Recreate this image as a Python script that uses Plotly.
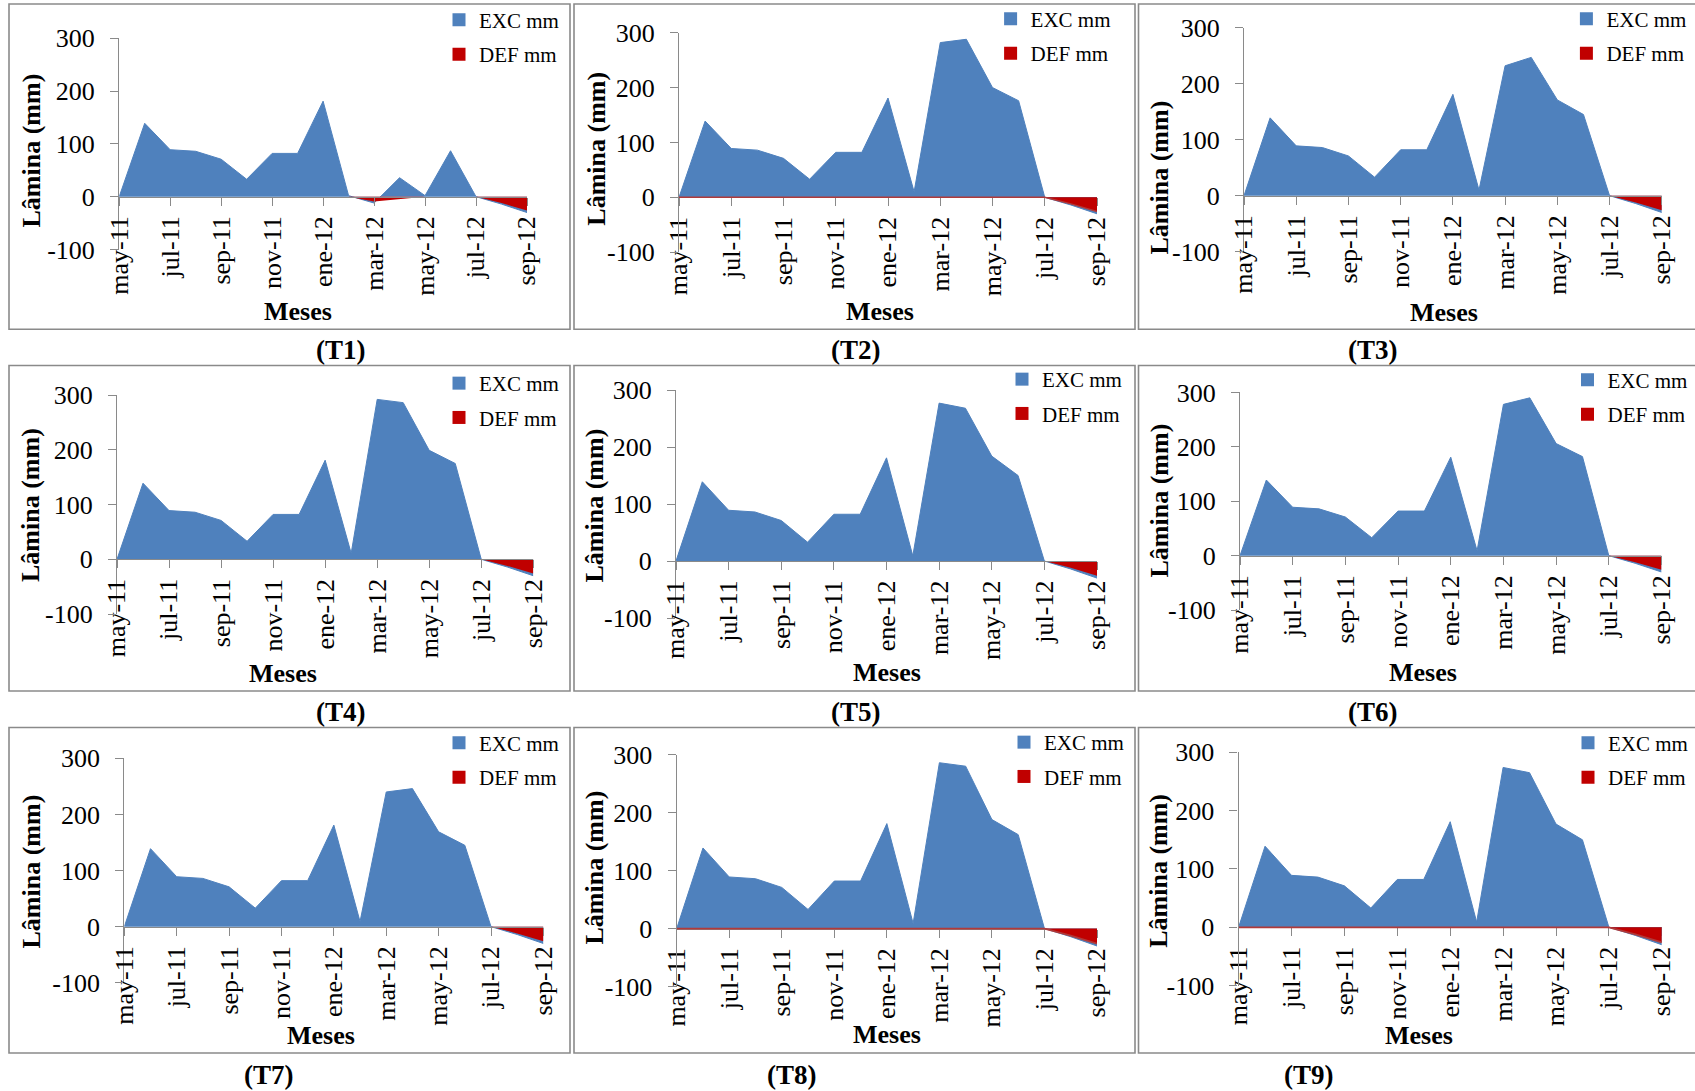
import plotly.graph_objects as go

W, H = 1695, 1091

# ---------------- data ----------------
months = ["may-11", "jun-11", "jul-11", "ago-11", "sep-11", "oct-11", "nov-11", "dic-11",
          "ene-12", "feb-12", "mar-12", "abr-12", "may-12", "jun-12", "jul-12", "ago-12", "sep-12"]
tick_months = ["may-11", "jul-11", "sep-11", "nov-11", "ene-12", "mar-12", "may-12", "jul-12", "sep-12"]
y_tickvals = [-100, 0, 100, 200, 300]
y_ticktext = ["-100", "0", "100", "200", "300"]

exc_t1 = [0, 139, 89, 86, 71, 33, 82, 82, 181, 2, -12, 36, 2, 87, 0, -14, -30]
exc_t2 = [0, 139, 89, 86, 71, 33, 82, 82, 181, 10, 282, 288, 200, 176, 0, -14, -30]
exc_t3 = [0, 139, 89, 86, 71, 33, 82, 82, 181, 10, 232, 247, 171, 145, 0, -14, -30]
exc_t4 = [0, 139, 89, 86, 71, 33, 82, 82, 181, 11, 292, 286, 199, 175, 0, -14, -30]
exc_t5 = [0, 139, 89, 86, 71, 33, 82, 82, 181, 9, 277, 268, 184, 150, 0, -14, -30]
exc_t6 = [0, 139, 89, 86, 71, 33, 82, 82, 181, 9, 278, 290, 206, 182, 0, -14, -30]
exc_t7 = [0, 139, 89, 86, 71, 33, 82, 82, 181, 9, 240, 246, 169, 145, 0, -14, -30]
exc_t8 = [0, 139, 89, 86, 71, 33, 82, 82, 181, 9, 286, 280, 188, 162, 0, -14, -30]
exc_t9 = [0, 139, 89, 86, 71, 33, 82, 82, 181, 9, 274, 265, 177, 150, 0, -14, -30]

def_t1 = [0, 0, 0, 0, 0, 0, 0, 0, 0, 0, -9, None, 0, 0, 0, -12, -26]
def_t2 = [0, 0, 0, 0, 0, 0, 0, 0, 0, 0, 0, 0, 0, 0, 0, -12, -26]
def_t3 = [0, 0, 0, 0, 0, 0, 0, 0, 0, 0, 0, 0, 0, 0, 0, -12, -26]
def_t4 = [0, 0, 0, 0, 0, 0, 0, 0, 0, 0, 0, 0, 0, 0, 0, -12, -26]
def_t5 = [0, 0, 0, 0, 0, 0, 0, 0, 0, 0, 0, 0, 0, 0, 0, -12, -26]
def_t6 = [0, 0, 0, 0, 0, 0, 0, 0, 0, 0, 0, 0, 0, 0, 0, -12, -26]
def_t7 = [0, 0, 0, 0, 0, 0, 0, 0, 0, 0, 0, 0, 0, 0, 0, -12, -26]
def_t8 = [0, 0, 0, 0, 0, 0, 0, 0, 0, 0, 0, 0, 0, 0, 0, -12, -26]
def_t9 = [0, 0, 0, 0, 0, 0, 0, 0, 0, 0, 0, 0, 0, 0, 0, -12, -26]

panel_names = ["(T1)", "(T2)", "(T3)", "(T4)", "(T5)", "(T6)", "(T7)", "(T8)", "(T9)"]
exc_series = [exc_t1, exc_t2, exc_t3, exc_t4, exc_t5, exc_t6, exc_t7, exc_t8, exc_t9]
def_series = [def_t1, def_t2, def_t3, def_t4, def_t5, def_t6, def_t7, def_t8, def_t9]
exc_name = "EXC mm"
def_name = "DEF mm"
x_title = "Meses"
y_title = "Lâmina (mm)"

# ---------------- styling / layout (pixels) ----------------
BLUE = "#4F81BD"
RED = "#C00000"
GRAY = "#8a8a8a"
FONT = "Liberation Serif, Times New Roman, serif"

# plot area: x of first month, x of last month, y px of 300, y px of -100
geo = [
    (119.2, 527.0, 38.3, 249.5),
    (679.0, 1097.0, 32.7, 252.2),
    (1244.0, 1661.8, 27.7, 251.7),
    (117.0, 533.3, 395.0, 614.1),
    (676.0, 1097.0, 390.0, 618.0),
    (1240.0, 1661.5, 392.4, 610.1),
    (124.3, 543.4, 758.3, 982.8),
    (676.7, 1097.0, 754.6, 986.6),
    (1238.6, 1661.8, 752.3, 985.6),
]
# DEF outline (visible as reddish zero line in some panels)
def_line_w = [0, 1.4, 0, 0, 0, 0, 0, 1.8, 1.8]
boxes_x = [(9, 570), (574, 1135), (1138.5, 1698)]
boxes_y = [(4, 329.3), (365.5, 691), (727.5, 1053)]
# legend: text start x, first item center y
leg_pos = [(479, 22.7), (1030.6, 21.7), (1606.4, 21.7),
           (479, 386), (1042, 382), (1607.5, 382.7),
           (479, 745.7), (1044, 745), (1608, 745.7)]
# "Meses" centers
xt_pos = [(297.5, 311), (880, 311.7), (1444, 312),
          (283, 673.3), (886.6, 672.5), (1422.7, 672.5),
          (320.8, 1035.3), (886.6, 1034.5), (1419, 1035.3)]
# "Lâmina (mm)" centers
yt_pos = [(31.7, 150.8), (596.4, 148.3), (1159, 177.5),
          (30, 505), (593.5, 506), (1159, 500.5),
          (31.8, 871.7), (593.5, 868), (1159, 870.8)]
# panel labels
lab_pos = [(340.5, 350.2), (856, 350.2), (1373, 350.2),
           (340.5, 712.4), (856, 712.4), (1373, 712.4),
           (269.2, 1074.6), (792.4, 1074.6), (1309, 1074.6)]


def px(x):
    return x / W


def py(y):
    return 1 - y / H


fig = go.Figure()
layout = dict(
    width=W, height=H, margin=dict(l=0, r=0, t=0, b=0, autoexpand=False),
    paper_bgcolor="white", plot_bgcolor="rgba(0,0,0,0)",
    font=dict(family=FONT, color="black"),
    showlegend=True,
)
annotations = []
shapes = []

for i in range(9):
    k = "" if i == 0 else str(i + 1)
    xa, ya = "x" + k, "y" + k
    legname = "legend" + k
    x0, x1, ytop, ybot = geo[i]
    yzero = ytop + 0.75 * (ybot - ytop)

    fig.add_trace(go.Scatter(
        x=months, y=exc_series[i], mode="lines", fill="tozeroy",
        fillcolor=BLUE, line=dict(color=BLUE, width=1),
        xaxis=xa, yaxis=ya, showlegend=False, hoverinfo="skip"))
    fig.add_trace(go.Scatter(
        x=months, y=def_series[i], mode="lines", fill="tozeroy",
        fillcolor=RED, line=dict(color="#b03a3a", width=def_line_w[i]),
        connectgaps=False,
        xaxis=xa, yaxis=ya, showlegend=False, hoverinfo="skip"))
    # legend entries
    fig.add_trace(go.Scatter(
        x=[None], y=[None], mode="markers", name=exc_name,
        marker=dict(symbol="square", size=13, color=BLUE),
        xaxis=xa, yaxis=ya, legend=legname, legendgroup="exc" + k))
    fig.add_trace(go.Scatter(
        x=[None], y=[None], mode="markers", name=def_name,
        marker=dict(symbol="square", size=13, color=RED),
        xaxis=xa, yaxis=ya, legend=legname, legendgroup="def" + k))

    layout["xaxis" + k] = dict(
        type="category", categoryorder="array", categoryarray=months,
        range=[0, 16], domain=[px(x0), px(x1)],
        anchor="free", position=py(yzero),
        showline=True, linecolor=GRAY, linewidth=1.3,
        ticks="outside", ticklen=8, tickcolor=GRAY, tickwidth=1.3,
        tickmode="array", tickvals=tick_months, ticktext=tick_months,
        tickangle=-90, tickfont=dict(family=FONT, size=26, color="black"),
        ticklabelstandoff=0, automargin=False,
        layer="below traces" if def_line_w[i] > 0 else "above traces",
        showgrid=False, zeroline=False, fixedrange=True,
    )
    layout["yaxis" + k] = dict(
        range=[-100, 300], domain=[py(ybot), py(ytop)], anchor=xa,
        showline=True, linecolor=GRAY, linewidth=1.3,
        ticks="outside", ticklen=8, tickcolor=GRAY, tickwidth=1.3,
        tickmode="array", tickvals=y_tickvals, ticktext=y_ticktext,
        tickfont=dict(family=FONT, size=26, color="black"),
        ticklabelstandoff=10, automargin=False,
        showgrid=False, zeroline=False, fixedrange=True,
    )
    lx, lcy = leg_pos[i]
    layout[legname] = dict(
        x=px(lx - 40), y=py(lcy - 23), xanchor="left", yanchor="top",
        font=dict(family=FONT, size=21, color="black"),
        bgcolor="rgba(0,0,0,0)", borderwidth=0, tracegroupgap=4,
        itemclick=False, itemdoubleclick=False,
    )

    bx = boxes_x[i % 3]
    by = boxes_y[i // 3]
    shapes.append(dict(type="rect", xref="paper", yref="paper",
                       x0=px(bx[0]), x1=px(bx[1]), y0=py(by[1]), y1=py(by[0]),
                       line=dict(color=GRAY, width=1.6), fillcolor="rgba(0,0,0,0)",
                       layer="below"))

    tx, ty = xt_pos[i]
    annotations.append(dict(text=x_title, x=px(tx), y=py(ty), xref="paper", yref="paper",
                            xanchor="center", yanchor="middle", showarrow=False,
                            font=dict(family=FONT, size=26, color="black", weight="bold")))
    tx, ty = yt_pos[i]
    annotations.append(dict(text=y_title, x=px(tx), y=py(ty), xref="paper", yref="paper",
                            xanchor="center", yanchor="middle", showarrow=False, textangle=-90,
                            font=dict(family=FONT, size=26, color="black", weight="bold")))
    tx, ty = lab_pos[i]
    annotations.append(dict(text=panel_names[i], x=px(tx), y=py(ty), xref="paper", yref="paper",
                            xanchor="center", yanchor="middle", showarrow=False,
                            font=dict(family=FONT, size=27, color="black", weight="bold")))

layout["annotations"] = annotations
layout["shapes"] = shapes
fig.update_layout(**layout)

fig.write_html("out.html")
